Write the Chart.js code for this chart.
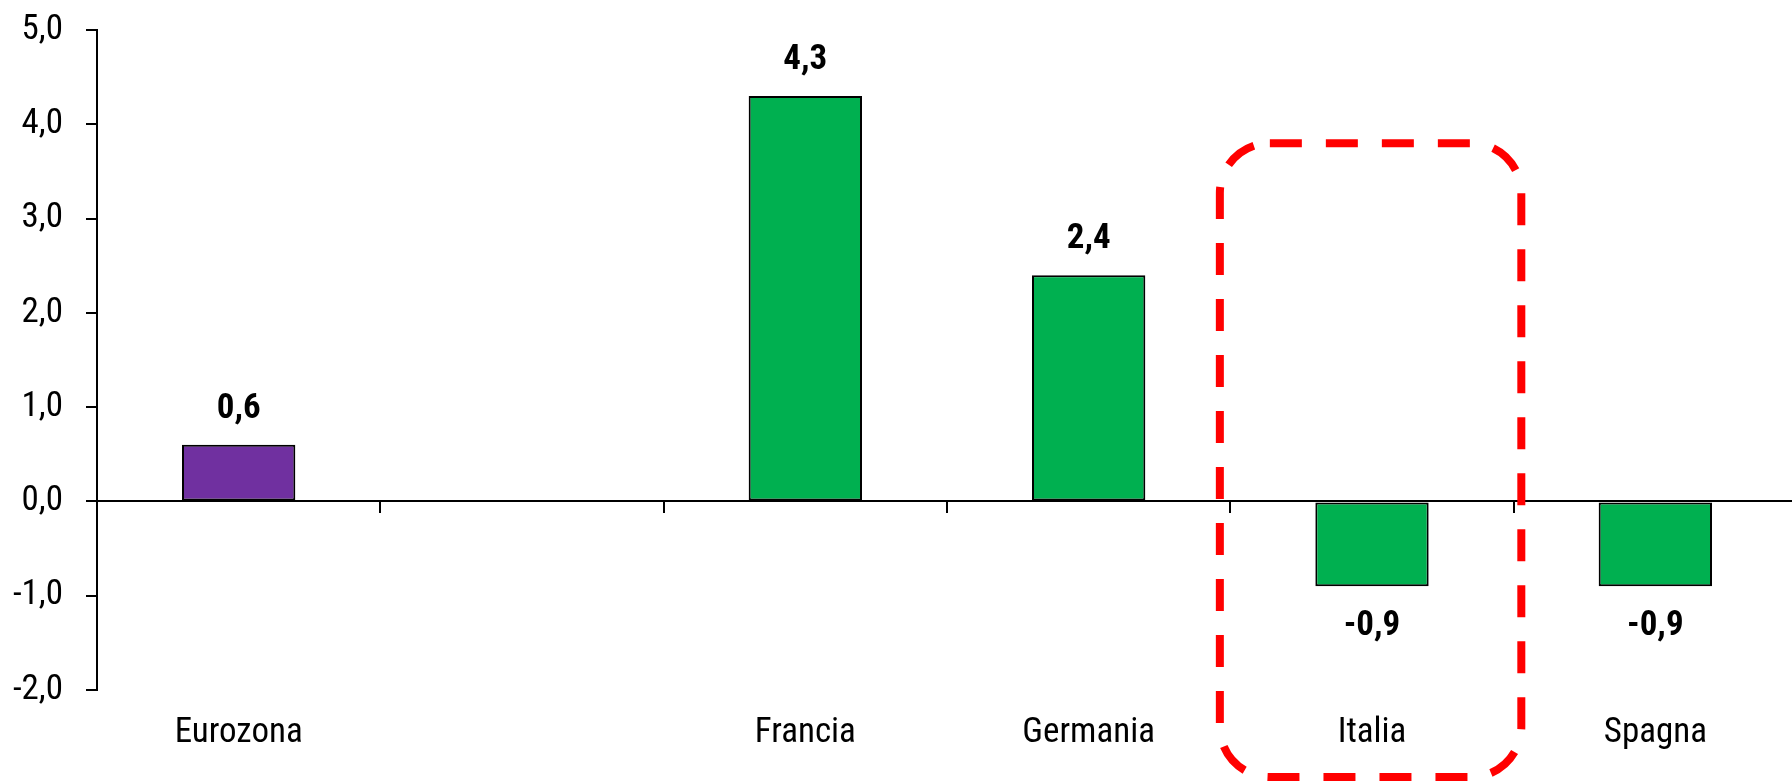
<!DOCTYPE html>
<html><head><meta charset="utf-8">
<script src="https://cdn.jsdelivr.net/npm/chart.js@4/dist/chart.umd.min.js"></script>
<style>
html,body{margin:0;padding:0;overflow:hidden;background:#fff;}
#wrap{width:1797px;height:783px;position:relative;}
</style></head><body>
<div id="wrap"><canvas id="c"></canvas></div>
<script>
const categories = ['Eurozona', '', 'Francia', 'Germania', 'Italia', 'Spagna'];
const values = [0.6, null, 4.3, 2.4, -0.9, -0.9];
const yTicks = [-2, -1, 0, 1, 2, 3, 4, 5];
const highlighted = ['Italia'];

const FONT = "'Roboto Condensed', 'DejaVu Sans Condensed', sans-serif";
const fmt = v => v.toFixed(1).replace('.', ',');

const valueLabels = {
  id: 'valueLabels',
  afterDatasetsDraw(chart) {
    const ctx = chart.ctx;
    const meta = chart.getDatasetMeta(0);
    ctx.save();
    ctx.font = 'bold 35px ' + FONT;
    ctx.fillStyle = '#000';
    ctx.textAlign = 'center';
    ctx.textBaseline = 'middle';
    meta.data.forEach((bar, i) => {
      const v = values[i];
      if (v === null || v === undefined) return;
      const y = v >= 0 ? bar.y - 36 : bar.y + 40;
      ctx.fillText(fmt(v), bar.x, y);
    });
    ctx.restore();
  }
};

const highlightBox = {
  id: 'highlightBox',
  afterDraw(chart) {
    const ctx = chart.ctx;
    const xs = chart.scales.x, ys = chart.scales.y;
    const catW = xs.width / categories.length;
    highlighted.forEach(name => {
      const i = categories.indexOf(name);
      const cx = xs.getPixelForValue(i);
      const l = cx - 0.537 * catW, r = cx + 0.527 * catW;
      const t = ys.getPixelForValue(3.8);
      const b = chart.chartArea.bottom + 87;
      const rad = 50;
      ctx.save();
      ctx.strokeStyle = '#FF0000';
      ctx.lineWidth = 8;
      ctx.setLineDash([32, 24]);
      ctx.beginPath();
      ctx.moveTo(l + rad, t);
      ctx.lineTo(r - rad, t);
      ctx.arcTo(r, t, r, t + rad, rad);
      ctx.lineTo(r, b - rad);
      ctx.arcTo(r, b, r - rad, b, rad);
      ctx.lineTo(l + rad, b);
      ctx.arcTo(l, b, l, b - rad, rad);
      ctx.lineTo(l, t + rad);
      ctx.arcTo(l, t, l + rad, t, rad);
      ctx.closePath();
      ctx.stroke();
      ctx.restore();
    });
  }
};

new Chart(document.getElementById('c'), {
  type: 'bar',
  data: {
    labels: categories,
    datasets: [{
      data: values,
      xAxisID: 'x',
      yAxisID: 'y',
      backgroundColor: c => categories[c.dataIndex] === 'Eurozona' ? '#7030A0' : '#00B050',
      borderColor: '#000',
      borderWidth: 2,
      borderSkipped: false,
      barPercentage: 0.4,
      categoryPercentage: 1
    }]
  },
  options: {
    responsive: true,
    maintainAspectRatio: false,
    animation: false,
    devicePixelRatio: 1,
    layout: { padding: { top: 30, left: 0, right: 0, bottom: 0 } },
    plugins: { legend: { display: false }, tooltip: { enabled: false } },
    scales: {
      x: {
        type: 'category',
        position: { y: 0 },
        offset: true,
        grid: { offset: true, drawOnChartArea: false, drawTicks: true, tickLength: 11, color: '#000', lineWidth: 2 },
        border: { display: true, color: '#000', width: 2 },
        ticks: { display: false }
      },
      x2: {
        type: 'category',
        position: 'bottom',
        offset: true,
        grid: { display: false, drawTicks: false, offset: true },
        border: { display: false },
        ticks: { font: { family: FONT, size: 35 }, color: '#000', padding: 22, autoSkip: false, maxRotation: 0 },
        afterFit(s) { s.height = 93; s.paddingLeft = 0; s.paddingRight = 0; }
      },
      y: {
        type: 'linear',
        position: 'left',
        min: -2,
        max: 5,
        afterBuildTicks(s) { s.ticks = yTicks.map(v => ({ value: v })); },
        ticks: { callback: v => fmt(v), font: { family: FONT, size: 35 }, color: '#000', padding: 23 },
        grid: { drawOnChartArea: false, drawTicks: true, tickLength: 11, color: '#000', lineWidth: 2 },
        border: { display: true, color: '#000', width: 2 },
        afterFit(s) { s.width = 97; s.paddingTop = 0; s.paddingBottom = 0; }
      }
    }
  },
  plugins: [valueLabels, highlightBox]
});
</script>
</body></html>
